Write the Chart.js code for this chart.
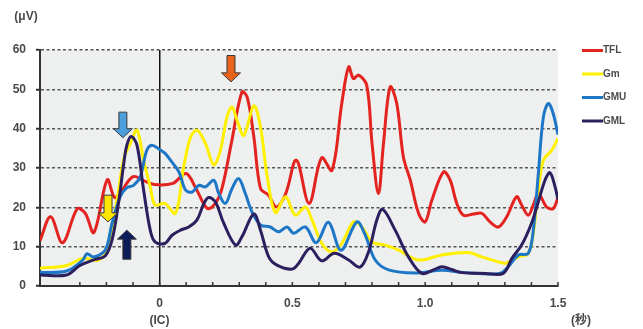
<!DOCTYPE html>
<html><head><meta charset="utf-8">
<script src="https://cdn.jsdelivr.net/npm/chart.js@4"></script>
<style>html,body{margin:0;padding:0;background:#fff;}#wrap{width:643px;height:329px;position:relative;}</style>
</head><body><div id="wrap"><canvas id="c" width="643" height="329"></canvas></div>
<script>
// ---- data ----
const seriesNames = ['TFL', 'Gm', 'GMU', 'GML'];
const seriesColors = ['#E3231F', '#FFF000', '#1E77C6', '#2C1F5E'];

const tflT = [-0.45,-0.41,-0.365,-0.31,-0.28,-0.247,-0.197,-0.17,-0.15,-0.1,-0.06,-0.02,0.05,0.1,0.14,0.18,0.21,0.235,0.27,0.31,0.33,0.355,0.38,0.41,0.44,0.475,0.515,0.563,0.61,0.649,0.686,0.712,0.73,0.749,0.78,0.8,0.824,0.843,0.868,0.893,0.918,0.944,0.975,1.0,1.025,1.069,1.094,1.119,1.144,1.182,1.213,1.244,1.276,1.307,1.344,1.363,1.388,1.407,1.426,1.457,1.482,1.5];
const tflV = [11.5,17.6,11,19.6,18.5,13.6,27,22.5,23.5,27.8,26.8,25.8,26.1,28.6,24.4,19.7,21,24.8,36.2,49.3,48,37.9,24.8,23.1,20.1,23.5,32,21,32.6,29.4,46.4,55.7,52.7,53.6,51,36.2,23.5,36.2,50.6,46.4,32.8,26.9,18.5,16.3,21.8,29,26.9,21,18,18.3,18.5,16.3,15,17.6,22.7,20.6,18,20.6,23.5,20.1,19.7,22.5];

const gmT = [-0.45,-0.35,-0.29,-0.23,-0.19,-0.17,-0.155,-0.134,-0.11,-0.085,-0.06,-0.035,-0.017,0.02,0.06,0.091,0.117,0.141,0.173,0.204,0.229,0.254,0.273,0.292,0.317,0.355,0.38,0.405,0.436,0.474,0.511,0.549,0.574,0.611,0.649,0.686,0.73,0.762,0.8,0.85,0.9,0.975,1.063,1.163,1.213,1.263,1.303,1.351,1.388,1.407,1.426,1.445,1.476,1.5];
const gmV = [4.5,5.2,7,6.6,10,18,24,32.5,36.2,39.6,32,25.2,20.6,21,18.5,30.3,37.9,39.6,36.2,30.8,34.5,43,45.5,42.1,38.3,45.8,40.4,28,18.7,22.7,18,20.1,16.8,10.8,8.7,10.8,16.3,15,11.2,10.4,9.1,6.6,7.9,8.5,7.4,6.4,5.8,7.4,8.3,13.4,24.4,32,34.5,37.5];

const gmuT = [-0.45,-0.35,-0.29,-0.273,-0.25,-0.21,-0.195,-0.179,-0.148,-0.123,-0.098,-0.073,-0.048,-0.029,-0.004,0.021,0.041,0.073,0.098,0.123,0.148,0.173,0.204,0.223,0.248,0.273,0.298,0.323,0.348,0.38,0.417,0.448,0.48,0.505,0.549,0.59,0.636,0.683,0.743,0.774,0.812,0.862,0.962,1.063,1.15,1.28,1.313,1.351,1.388,1.407,1.426,1.445,1.464,1.482,1.5];
const gmuV = [3.4,3.8,6.5,8.2,7.4,8.7,10.8,15.9,22.7,25,25.6,27.7,34.5,35.8,34.9,33.7,32,29,24.4,23.9,25.6,25.2,26.9,23.5,21,24.8,27.3,23.5,18.8,15.5,15,13.8,15,13.4,15,11,16.2,9.1,16.3,13,6.6,4.1,3.3,4,3.4,3.2,4.9,7.9,8.3,14.2,28.6,43,46.4,43.8,38.5];

const gmlT = [-0.45,-0.35,-0.3,-0.25,-0.204,-0.178,-0.153,-0.135,-0.123,-0.107,-0.085,-0.06,-0.035,-0.017,0.02,0.047,0.079,0.11,0.141,0.167,0.185,0.21,0.242,0.286,0.31,0.355,0.38,0.411,0.442,0.5,0.524,0.567,0.61,0.658,0.712,0.755,0.787,0.818,0.84,0.887,0.937,0.987,1.031,1.063,1.1,1.138,1.226,1.294,1.326,1.363,1.4,1.426,1.451,1.47,1.489,1.5];
const gmlV = [2.8,2.8,5.2,6.6,7.7,11.9,21.8,31,35.8,38,35.8,24.4,14.2,11.2,10.8,12.9,14.2,15,16.8,21,22.5,21.4,15.9,10.4,12.5,18.3,14.2,7.4,5.3,4.3,5.8,9.6,6.4,8.3,6.6,4.8,8.7,16.8,19.5,14.2,7.4,3.2,4.1,4.9,4.2,3.4,3.2,3.2,7,10.4,15.9,21.4,26.9,28.8,25.2,22];

// x tick labels (seconds) and axis ranges
const xLabelValues = [0, 0.5, 1.0, 1.5];
const xLabelTexts = [['0', '(IC)'], '0.5', '1.0', '1.5'];
const yMin = 0, yMax = 60, yStep = 10;
const xMin = -0.45, xMax = 1.5, xStep = 0.1;
const yUnit = '(μV)';
const xUnit = '(秒)';

// annotation arrows (time, start value, tip value)
const arrowT = [0.269, -0.138, -0.194, -0.123];
const arrowFrom = [58.6, 44.2, 23.1, 6.8];
const arrowTo = [51.9, 37.7, 16.3, 14.2];
const arrowColors = ['#E8641C', '#4C9FDA', '#FFE600', '#0C1C58'];

// ---- chart ----
const seriesT = [tflT, gmT, gmuT, gmlT];
const seriesV = [tflV, gmV, gmuV, gmlV];
const FONT = "'Liberation Sans', 'Noto Sans CJK JP', sans-serif";
const TEXT = '#4a4a4a';

const datasets = seriesNames.map((name, i) => ({
  label: name,
  data: seriesT[i].map((t, j) => ({ x: t, y: seriesV[i][j] })),
  borderColor: seriesColors[i],
  backgroundColor: seriesColors[i],
  borderWidth: 3,
  pointRadius: 0,
  tension: 0.35,
  fill: false,
  order: seriesNames.length - i
}));

const bgPlugin = {
  id: 'bg',
  beforeDraw(chart) {
    const { ctx, chartArea: a } = chart;
    ctx.save();
    ctx.fillStyle = '#EEF0F0';
    ctx.fillRect(a.left, a.top, a.right - a.left, a.bottom - a.top);
    ctx.restore();
  },
  beforeDatasetsDraw(chart) {
    const { ctx, chartArea: a, scales: { x } } = chart;
    ctx.save();
    ctx.strokeStyle = '#333';
    ctx.lineWidth = 1.5;
    x.ticks.forEach(t => {
      const v = t.value;
      if (Math.abs(v * 10 - Math.round(v * 10)) > 1e-6) return;
      const px = x.getPixelForValue(v);
      if (px <= a.left + 2) return;
      ctx.beginPath();
      ctx.moveTo(px, a.bottom);
      ctx.lineTo(px, a.bottom - 4);
      ctx.stroke();
    });
    ctx.restore();
  }
};

function drawArrow(ctx, px, y0, y1, color) {
  const dir = y1 > y0 ? 1 : -1;
  const len = Math.abs(y1 - y0);
  const headLen = Math.min(9, len * 0.4);
  const sw = 4, hw = 9.5;
  const yb = y1 - dir * headLen;
  ctx.beginPath();
  ctx.moveTo(px - sw, y0);
  ctx.lineTo(px + sw, y0);
  ctx.lineTo(px + sw, yb);
  ctx.lineTo(px + hw, yb);
  ctx.lineTo(px, y1);
  ctx.lineTo(px - hw, yb);
  ctx.lineTo(px - sw, yb);
  ctx.closePath();
  ctx.fillStyle = color;
  ctx.fill();
  ctx.lineWidth = 1;
  ctx.strokeStyle = '#3a3a3a';
  ctx.stroke();
}

const decoPlugin = {
  id: 'deco',
  afterDraw(chart) {
    const { ctx, scales: { x, y } } = chart;
    ctx.save();
    arrowT.forEach((t, i) => {
      drawArrow(ctx, x.getPixelForValue(t), y.getPixelForValue(arrowFrom[i]), y.getPixelForValue(arrowTo[i]), arrowColors[i]);
    });
    // legend
    ctx.font = 'bold 10px ' + FONT;
    ctx.textBaseline = 'middle';
    ctx.textAlign = 'left';
    chart.data.datasets.forEach((ds, i) => {
      const ly = 50.5 + i * 23.5;
      ctx.strokeStyle = ds.borderColor;
      ctx.lineWidth = 3;
      ctx.beginPath();
      ctx.moveTo(582, ly);
      ctx.lineTo(603, ly);
      ctx.stroke();
      ctx.fillStyle = TEXT;
      ctx.fillText(ds.label, 603, ly);
    });
    // unit labels
    ctx.font = 'bold 12px ' + FONT;
    ctx.textAlign = 'center';
    ctx.fillStyle = TEXT;
    ctx.fillText(yUnit, 26, 17);
    ctx.fillText(xUnit, 581, 321);
    ctx.restore();
  }
};

new Chart(document.getElementById('c'), {
  type: 'line',
  data: { datasets },
  options: {
    responsive: false,
    devicePixelRatio: 1,
    animation: false,
    layout: { padding: { top: 50, right: 85, left: 0, bottom: 0 } },
    plugins: { legend: { display: false }, tooltip: { enabled: false } },
    scales: {
      x: {
        type: 'linear',
        min: xMin, max: xMax,
        afterFit(s) { s.height = 43; },
        border: { display: true, color: '#333', width: 2 },
        grid: {
          drawTicks: false,
          color: c => (c.tick && Math.abs(c.tick.value) < 1e-9) ? '#111' : 'rgba(0,0,0,0)',
          lineWidth: 1.5
        },
        ticks: {
          stepSize: xStep,
          autoSkip: false,
          maxRotation: 0,
          padding: 10,
          color: TEXT,
          font: { family: FONT, size: 12, weight: 'bold', lineHeight: 1.35 },
          callback: v => {
            const k = xLabelValues.findIndex(q => Math.abs(q - v) < 1e-6);
            return k >= 0 ? xLabelTexts[k] : '';
          }
        }
      },
      y: {
        min: yMin, max: yMax,
        afterFit(s) { s.width = 40; },
        border: { display: true, color: '#333', width: 2, dash: [3, 2.5] },
        grid: {
          color: c => (c.tick && c.tick.value === 0) ? 'rgba(0,0,0,0)' : '#555',
          lineWidth: 1.5,
          tickLength: 4,
          tickColor: '#333',
          tickWidth: 2
        },
        ticks: {
          stepSize: yStep,
          padding: 10,
          color: TEXT,
          font: { family: FONT, size: 12, weight: 'bold' }
        }
      }
    }
  },
  plugins: [bgPlugin, decoPlugin]
});
</script></body></html>
